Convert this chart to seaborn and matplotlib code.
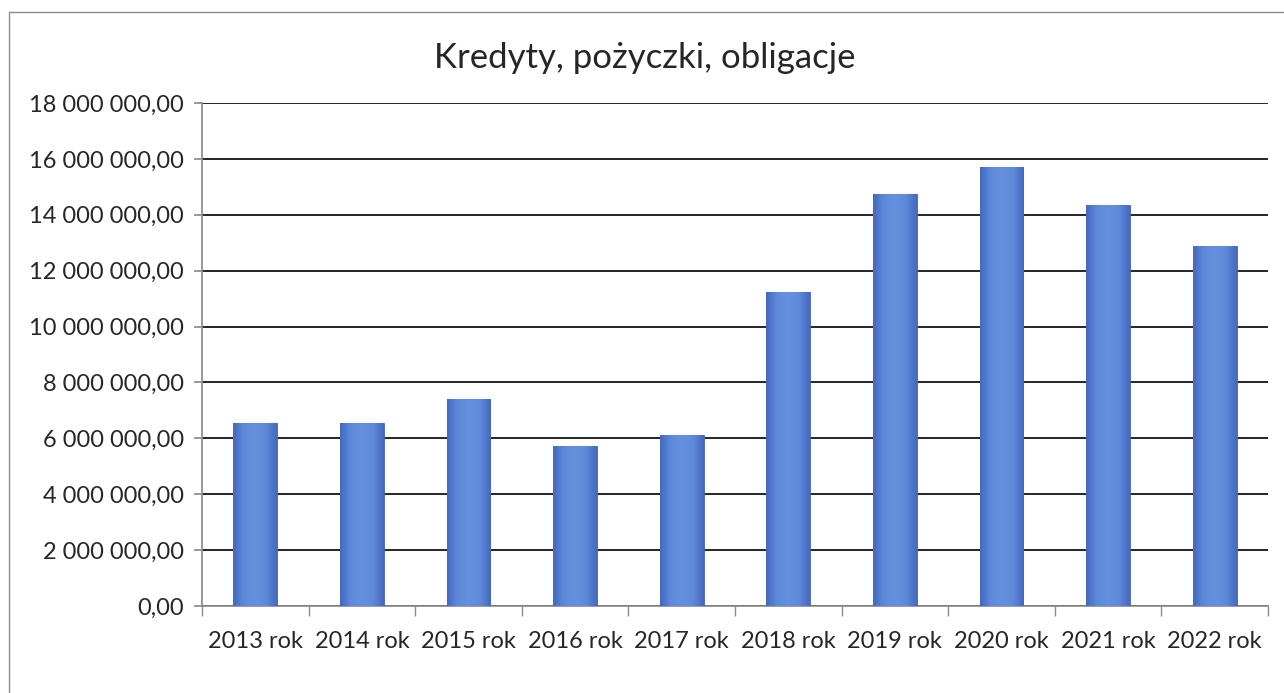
import numpy as np
import pandas as pd
import matplotlib
matplotlib.use("Agg")
import matplotlib.pyplot as plt
import seaborn as sns
from matplotlib.ticker import FuncFormatter, MultipleLocator
from matplotlib.colors import LinearSegmentedColormap
from matplotlib.lines import Line2D

years = ["2013 rok", "2014 rok", "2015 rok", "2016 rok", "2017 rok",
         "2018 rok", "2019 rok", "2020 rok", "2021 rok", "2022 rok"]
values = [6540000, 6540000, 7400000, 5740000, 6120000,
          11230000, 14750000, 15710000, 14350000, 12880000]
title = "Kredyty, pożyczki, obligacje"

df = pd.DataFrame({"rok": years, "wartosc": values})

sns.set_theme(style="white")
plt.rcParams['font.family'] = ['Lato', 'DejaVu Sans']

fig = plt.figure(figsize=(12.84, 6.93), dpi=100)
ax = fig.add_axes([202/1284, 1-606/693, (1268-202)/1284, (606-103)/693])

sns.barplot(data=df, x="rok", y="wartosc", color="#5A82D4", width=0.41,
            ax=ax, saturation=1, edgecolor="#3F62B0", linewidth=0.6, zorder=3)

# horizontal gradient inside each bar
cmap = LinearSegmentedColormap.from_list("g", ["#4468BE", "#5F8ADB", "#6690DE", "#5F8ADB", "#4468BE"])
grad = np.linspace(0, 1, 256).reshape(1, -1)
for p in list(ax.patches):
    x0, y0 = p.get_x(), p.get_y()
    w, h = p.get_width(), p.get_height()
    im = ax.imshow(grad, extent=[x0, x0 + w, y0, y0 + h], aspect="auto",
                   cmap=cmap, zorder=3.5, interpolation="bilinear")
    im.set_clip_path(p)

ax.set_xlim(-0.5, len(years) - 0.5)
ax.set_ylim(0, 18000000)
ax.yaxis.set_major_locator(MultipleLocator(2000000))
ax.yaxis.set_major_formatter(FuncFormatter(
    lambda v, _: f"{v:,.2f}".replace(",", " ").replace(".", ",")))
ax.grid(axis="y", color="black", linewidth=1.2, zorder=0)
ax.set_axisbelow(True)

for s in ["top", "right"]:
    ax.spines[s].set_visible(False)
ax.spines["left"].set_color("#8c8c8c")
ax.spines["bottom"].set_color("#8c8c8c")

ax.set_xticks(np.arange(len(years)))
ax.set_xticklabels(years)
ax.set_xticks(np.arange(len(years) + 1) - 0.5, minor=True)
ax.tick_params(axis="x", which="major", length=0, pad=18, labelsize=17)
ax.tick_params(axis="x", which="minor", length=7, color="#8c8c8c", direction="out", bottom=True)
ax.tick_params(axis="y", length=6, color="#8c8c8c", direction="out", left=True, labelsize=17, pad=7)
ax.set_xlabel("")
ax.set_ylabel("")

fig.text(645/1284, 1-58/693, title, ha="center", va="center", fontsize=25)

# chart-area border (top and left visible)
fig.add_artist(Line2D([8.5/1284, 8.5/1284], [0, 1-11.5/693], transform=fig.transFigure,
                      color="#8c8c8c", linewidth=1))
fig.add_artist(Line2D([8.5/1284, 1], [1-11.5/693, 1-11.5/693], transform=fig.transFigure,
                      color="#8c8c8c", linewidth=1))

fig.savefig("out.png", dpi=100)
